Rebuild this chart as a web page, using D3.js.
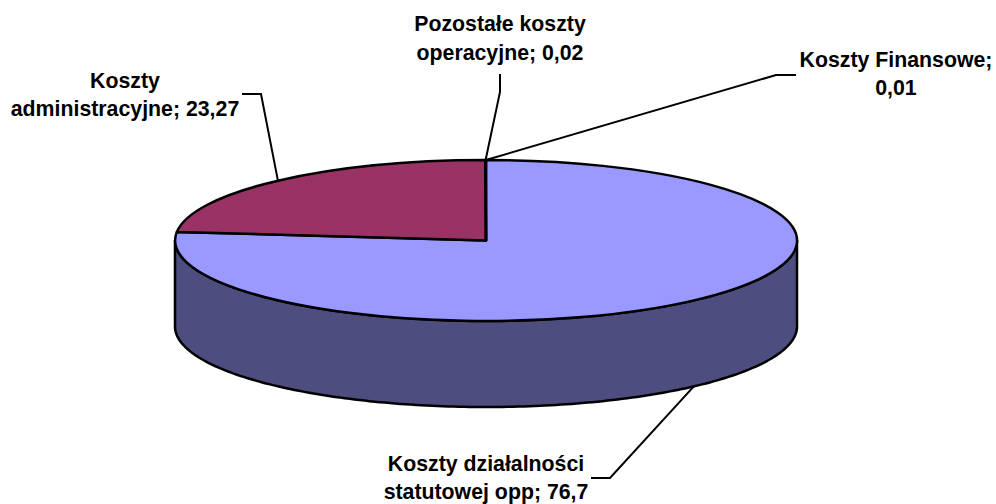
<!DOCTYPE html>
<html>
<head>
<meta charset="utf-8">
<script src="https://cdn.jsdelivr.net/npm/d3@7"></script>
<style>
    html, body { margin: 0; padding: 0; background: #fff; }
    svg { display: block; }
    text { font-family: "Liberation Sans", Arial, sans-serif; font-weight: bold; font-size: 21.3px; fill: #000; }
</style>
</head>
<body>
<div id="chart"></div>
<script>
// values
const categories = [
    ['Koszty działalności', 'statutowej opp; 76,7'],
    ['Koszty', 'administracyjne; 23,27'],
    ['Pozostałe koszty', 'operacyjne; 0,02'],
    ['Koszty Finansowe;', '0,01']
];
const values = [76.7, 23.27, 0.02, 0.01];
const topColors = ['#9999ff', '#993366', '#ffffcc', '#ccffff'];

const width = 996, height = 504;
const cx = 486, cy = 240.5, rx = 311, ry = 80.5, depth = 86;
const lineW = 2.5;

// label placement, one entry per slice: x, then baseline of each line
const labelPos = [[486, 471, 499], [125, 88, 116], [500, 31, 60], [896, 67, 95]];
const elbows = [
    [[591, 478], [610, 478]],
    [[242, 94], [261, 94]],
    [[500, 74], [500, 92]],
    [[796, 75], [776, 75]]
];

const svg = d3.select('#chart').append('svg')
    .attr('width', width)
    .attr('height', height);

const slices = d3.pie().sort(null)(values);

// point on the ellipse, angle is clockwise from the top
const rim = (a, dy = 0) => [cx + rx * Math.sin(a), cy - ry * Math.cos(a) + dy];

// front wall, the big slice covers all of it
const lower = d3.range(90, 270.5, 1).map(d => d * Math.PI / 180);
const wall = lower.map(a => rim(a)).concat(lower.slice().reverse().map(a => rim(a, depth)));
svg.append('path')
    .attr('d', d3.line()(wall) + 'Z')
    .attr('fill', '#4d4d80')
    .attr('stroke', '#000')
    .attr('stroke-width', lineW)
    .attr('stroke-linejoin', 'round');

// top face: unit pie squashed into the ellipse
const arcGen = d3.arc().innerRadius(0).outerRadius(1);
svg.append('g')
    .attr('transform', `translate(${cx},${cy}) scale(${rx},${ry})`)
    .selectAll('path')
    .data(slices)
    .join('path')
    .attr('d', arcGen)
    .attr('fill', (d, i) => topColors[i])
    .attr('stroke', '#000')
    .attr('stroke-width', lineW)
    .attr('stroke-linejoin', 'round')
    .attr('vector-effect', 'non-scaling-stroke');

// leaders start in the middle of each slice rim
svg.append('g')
    .selectAll('path')
    .data(slices)
    .join('path')
    .attr('d', (d, i) => {
        const mid = (d.startAngle + d.endAngle) / 2;
        // the big slice is anchored on the wall, not on the top rim
        const anchor = rim(mid, i === 0 ? depth : 0);
        return d3.line()([...elbows[i], anchor]);
    })
    .attr('fill', 'none')
    .attr('stroke', '#000')
    .attr('stroke-width', 2);

// labels
const labels = svg.append('g')
    .selectAll('text')
    .data(categories)
    .join('text')
    .attr('text-anchor', 'middle');
labels.selectAll('tspan')
    .data((d, i) => d.map((line, j) => ({ line, x: labelPos[i][0], y: labelPos[i][j + 1] })))
    .join('tspan')
    .attr('x', d => d.x)
    .attr('y', d => d.y)
    .text(d => d.line);
</script>
</body>
</html>
